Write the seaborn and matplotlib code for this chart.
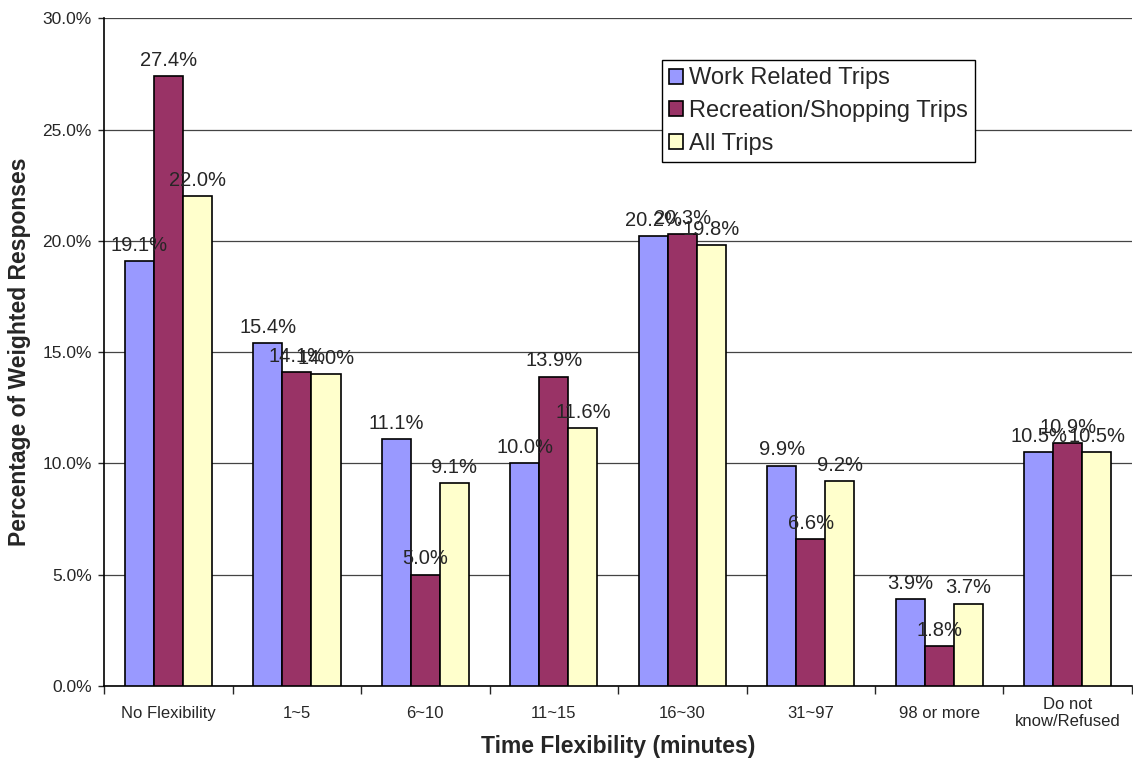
import pandas as pd
import matplotlib
matplotlib.use('Agg')
import matplotlib.pyplot as plt
import seaborn as sns
from matplotlib.ticker import FuncFormatter, FixedLocator

categories = ['No Flexibility', '1~5', '6~10', '11~15', '16~30', '31~97',
              '98 or more', 'Do not\nknow/Refused']
work = [19.1, 15.4, 11.1, 10.0, 20.2, 9.9, 3.9, 10.5]
recreation = [27.4, 14.1, 5.0, 13.9, 20.3, 6.6, 1.8, 10.9]
all_trips = [22.0, 14.0, 9.1, 11.6, 19.8, 9.2, 3.7, 10.5]
series = ['Work Related Trips', 'Recreation/Shopping Trips', 'All Trips']
colors = ['#9999FF', '#993366', '#FFFFCC']

df = pd.DataFrame({
    'cat': categories * 3,
    'val': work + recreation + all_trips,
    'series': [s for s in series for _ in categories],
})

sns.set_style('white')
plt.rcParams['font.family'] = ['Liberation Sans', 'DejaVu Sans']

fig, ax = plt.subplots(figsize=(11.33, 7.63), dpi=100)
fig.subplots_adjust(left=0.092, right=0.999, top=0.976, bottom=0.101)

sns.barplot(data=df, x='cat', y='val', hue='series', palette=colors,
            width=0.68, edgecolor='black', linewidth=1.2, saturation=1,
            ax=ax, zorder=3)

# value labels on top of the bars
for cont in ax.containers:
    ax.bar_label(cont, fmt='%.1f%%', padding=4.5, fontsize=14.5)

ax.set_ylim(0, 30)
ax.set_xlim(-0.5, 7.5)
ax.yaxis.set_major_locator(FixedLocator([0, 5, 10, 15, 20, 25, 30]))
ax.yaxis.set_major_formatter(FuncFormatter(lambda v, p: f'{v:.1f}%'))
ax.grid(axis='y', color='#444444', linewidth=0.9, zorder=0)
ax.set_axisbelow(True)

ax.tick_params(axis='y', labelsize=12.5, length=4, width=1, direction='out', left=True, pad=5)
ax.tick_params(axis='x', which='major', labelsize=12, length=0, pad=19.5)
for lab in ax.get_xticklabels():
    lab.set_verticalalignment('center')
# tick marks between the groups
ax.set_xticks([i + 0.5 for i in range(-1, 8)], minor=True)
ax.tick_params(axis='x', which='minor', length=6, width=1, direction='out', bottom=True)

for s in ['top', 'right']:
    ax.spines[s].set_visible(False)
for s in ['left', 'bottom']:
    ax.spines[s].set_color('black')
    ax.spines[s].set_linewidth(1.2)

ax.set_xlabel('Time Flexibility (minutes)', fontsize=16.5, fontweight='bold', labelpad=4)
ax.set_ylabel('Percentage of Weighted Responses', fontsize=16.5, fontweight='bold', labelpad=8)

leg = ax.legend(loc='upper left', bbox_to_anchor=(0.543, 0.937), fontsize=17,
                frameon=True, fancybox=False, edgecolor='black', framealpha=1,
                handlelength=0.6, handleheight=0.6, handletextpad=0.25,
                borderpad=0.3, labelspacing=0.45, borderaxespad=0)
leg.get_frame().set_linewidth(1)

fig.savefig('out.png', dpi=100)
